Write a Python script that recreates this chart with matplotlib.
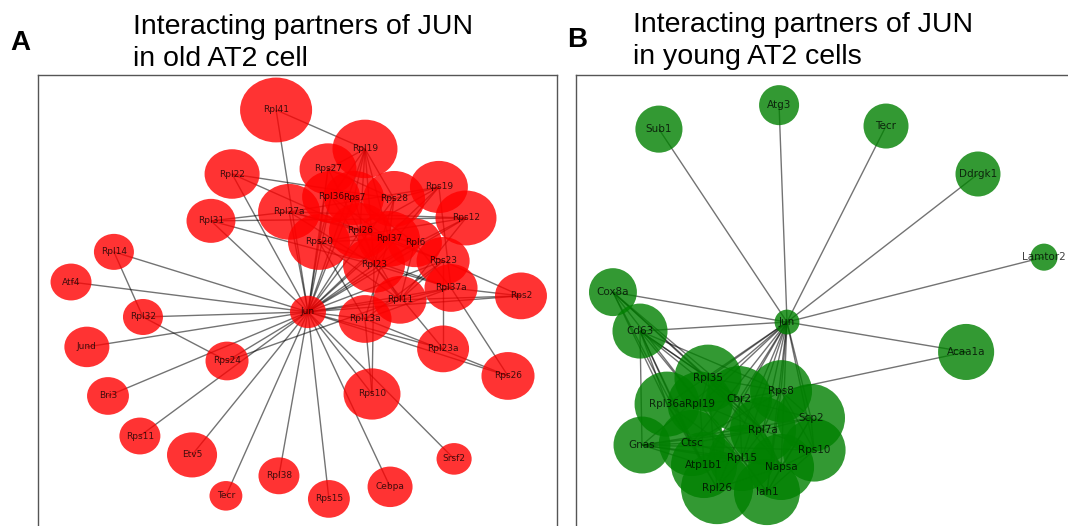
import matplotlib.pyplot as plt
from matplotlib.collections import LineCollection
from matplotlib.path import Path
from matplotlib.transforms import Affine2D

# --- old AT2 cell network (layout coordinates, Jun at the origin) ---
old_nodes = ["Jun", "Rpl41", "Rpl19", "Rps27", "Rpl22", "Rpl36", "Rps7", "Rps28",
             "Rps19", "Rps12", "Rpl27a", "Rpl31", "Rpl26", "Rps20", "Rpl37", "Rpl6",
             "Rpl23", "Rps23", "Rpl37a", "Rpl11", "Rpl13a", "Rps2", "Rpl23a", "Rps26",
             "Rps10", "Srsf2", "Cebpa", "Rps15", "Rpl38", "Tecr", "Etv5", "Rps11",
             "Bri3", "Jund", "Rps24", "Rpl32", "Atf4", "Rpl14"]
old_x = [0.0, -0.145, 0.259, 0.091, -0.345, 0.105, 0.209, 0.391,
         0.595, 0.718, -0.086, -0.441, 0.236, 0.050, 0.368, 0.486,
         0.300, 0.614, 0.650, 0.418, 0.259, 0.968, 0.614, 0.909,
         0.291, 0.664, 0.373, 0.095, -0.132, -0.373, -0.527, -0.764,
         -0.909, -1.005, -0.368, -0.750, -1.077, -0.882]
old_y = [0.0, 0.918, 0.741, 0.650, 0.627, 0.523, 0.518, 0.514,
         0.568, 0.427, 0.455, 0.414, 0.368, 0.318, 0.332, 0.314,
         0.214, 0.232, 0.109, 0.055, -0.032, 0.073, -0.168, -0.291,
         -0.373, -0.668, -0.795, -0.850, -0.745, -0.836, -0.650, -0.564,
         -0.382, -0.159, -0.223, -0.023, 0.136, 0.273]
old_size = [670, 2690, 2190, 1680, 1570, 1740, 1870, 1990,
            1740, 1930, 1990, 1240, 1990, 1990, 1990, 1510,
            1990, 1460, 1460, 1460, 1460, 1400, 1400, 1460,
            1680, 640, 1050, 910, 870, 560, 1300, 870,
            910, 1050, 960, 830, 870, 830]
old_links = {
    "Jun": "Rpl41 Rpl22 Rpl31 Rpl14 Atf4 Rpl32 Jund Rps24 Bri3 Rps11 Etv5 Tecr "
           "Rpl38 Rps15 Cebpa Srsf2 Rps10 Rpl23a Rps26 Rps2 Rpl13a Rpl11 Rpl37a "
           "Rpl23 Rps20 Rpl27a Rpl26 Rpl37 Rpl6 Rps23 Rps28 Rps7 Rpl36 Rps27 "
           "Rpl19 Rps19 Rps12",
    "Rpl14": "Rpl32",
    "Rpl32": "Rps24",
    "Rps24": "Rpl11",
    "Rpl41": "Rpl19",
    "Rpl22": "Rps28 Rpl26",
    "Rpl31": "Rpl27a Rpl23 Rps12",
    "Rps2": "Rpl37a Rps23 Rpl11",
    "Rps26": "Rpl37a Rpl13a",
    "Rpl23a": "Rpl23 Rps23",
    "Rps10": "Rpl23 Rpl13a",
    "Rpl19": "Rps27 Rpl36 Rps7 Rpl26 Rpl37 Rps28 Rpl23",
    "Rps27": "Rps20 Rpl26 Rps28",
    "Rpl36": "Rpl37 Rps20 Rpl23",
    "Rps7": "Rpl6 Rpl23",
    "Rps28": "Rpl23 Rpl37 Rps19",
    "Rps19": "Rpl26 Rpl27a Rpl37a Rpl23",
    "Rps12": "Rpl27a Rpl23 Rpl11 Rps20",
    "Rpl27a": "Rpl37 Rpl6 Rpl23",
    "Rpl26": "Rpl11 Rps23",
    "Rps20": "Rpl37 Rpl11 Rpl37a Rpl13a",
    "Rpl37": "Rpl13a Rps23",
    "Rpl6": "Rpl11 Rpl37a",
    "Rpl23": "Rpl37a Rpl11",
    "Rps23": "Rpl11",
    "Rpl37a": "Rpl11",
    "Rpl13a": "Rpl37a Rps23",
}

# --- young AT2 cell network ---
young_nodes = ["Jun", "Sub1", "Atg3", "Tecr", "Ddrgk1", "Lamtor2", "Cox8a", "Cd63",
               "Acaa1a", "Rpl35", "Rps8", "Rpl36a", "Rpl19", "Cbr2", "Scp2", "Rpl7a",
               "Gnas", "Ctsc", "Rps10", "Rpl15", "Atp1b1", "Napsa", "Rpl26", "Iah1"]
young_x = [0.0, -0.582, -0.036, 0.450, 0.868, 1.168, -0.791, -0.668,
           0.814, -0.359, -0.027, -0.545, -0.395, -0.218, 0.109, -0.109,
           -0.659, -0.432, 0.123, -0.205, -0.377, -0.027, -0.318, -0.091]
young_y = [0.0, 0.877, 0.986, 0.891, 0.673, 0.295, 0.136, -0.041,
           -0.136, -0.255, -0.314, -0.373, -0.373, -0.350, -0.436, -0.491,
           -0.559, -0.550, -0.582, -0.618, -0.650, -0.659, -0.755, -0.773]
young_size = [320, 1150, 830, 1050, 1050, 380, 1190, 1570,
              1630, 2330, 1990, 2190, 2190, 2260, 2400, 2260,
              1680, 2260, 2060, 2260, 2260, 2260, 2690, 2260]
young_links = {
    "Jun": "Sub1 Atg3 Tecr Ddrgk1 Lamtor2 Cox8a Cd63 Acaa1a Rpl35 Rps8 Rpl36a "
           "Rpl19 Cbr2 Scp2 Rpl7a Gnas Ctsc Rps10 Rpl15 Atp1b1 Napsa Rpl26 Iah1",
    "Acaa1a": "Rps8",
    "Cox8a": "Rpl35 Rpl36a Rpl19 Cbr2 Ctsc Rpl7a",
    "Cd63": "Rpl35 Rpl36a Rpl19 Cbr2 Rps8 Ctsc Gnas Atp1b1 Rpl7a",
    "Gnas": "Ctsc Rpl7a Rpl15 Scp2 Rps10 Napsa Atp1b1",
    "Rpl35": "Rps8 Cbr2 Rpl19 Rpl7a Napsa Rpl26",
    "Rps8": "Cbr2 Scp2 Rpl7a Rps10 Iah1 Ctsc",
    "Rpl36a": "Rpl19 Ctsc Rpl15 Rpl26",
    "Rpl19": "Cbr2 Rpl7a Atp1b1 Iah1",
    "Cbr2": "Rpl7a Scp2 Rpl15 Napsa",
    "Scp2": "Rpl7a Rps10 Napsa Iah1",
    "Rpl7a": "Ctsc Rpl15 Napsa Rps10",
    "Ctsc": "Atp1b1 Rpl15 Rpl26",
    "Rps10": "Napsa Iah1",
    "Rpl15": "Atp1b1 Napsa Rpl26 Iah1",
    "Napsa": "Iah1 Rpl26",
}


def draw_network(ax, nodes, xs, ys, sizes, links, color, marker, fontsize):
    pos = {n: (x, y) for n, x, y in zip(nodes, xs, ys)}
    segs = [(pos[a], pos[b]) for a, nb in links.items() for b in nb.split()]
    ax.add_collection(LineCollection(segs, colors="k", alpha=0.55,
                                     linewidths=1.0, zorder=1))
    ax.scatter(xs, ys, s=sizes, c=color, alpha=0.8, marker=marker,
               linewidths=0, zorder=2)
    for n, x, y in zip(nodes, xs, ys):
        ax.text(x, y, n, ha="center", va="center", fontsize=fontsize,
                color="k", alpha=0.75, zorder=3)
    ax.set_xticks([])
    ax.set_yticks([])
    for sp in ax.spines.values():
        sp.set_color("#555555")
        sp.set_linewidth(1.0)


fig = plt.figure(figsize=(10.68, 5.26), dpi=100)

# slightly flattened node shape for the left network
oval = Path.unit_circle().transformed(Affine2D().scale(1.0, 0.9))

ax1 = fig.add_axes([0.0356, -0.0171, 0.4860, 0.8745])
draw_network(ax1, old_nodes, old_x, old_y, old_size, old_links,
             "red", oval, 6.5)
ax1.set_xlim(-1.227, 1.132)
ax1.set_ylim(-1.014, 1.077)

ax2 = fig.add_axes([0.5393, -0.0171, 0.4813, 0.8745])
draw_network(ax2, young_nodes, young_x, young_y, young_size, young_links,
             "green", "o", 7.5)
ax2.set_xlim(-0.959, 1.377)
ax2.set_ylim(-0.968, 1.123)

title_font = ["Liberation Sans", "DejaVu Sans"]
fig.text(0.0094, 0.905, "A", fontsize=20, fontweight="bold",
         family=title_font, va="baseline")
fig.text(0.531, 0.911, "B", fontsize=20, fontweight="bold",
         family=title_font, va="baseline")
fig.text(0.1245, 0.974, "Interacting partners of JUN\nin old AT2 cell",
         fontsize=20.5, family=title_font, va="top", ha="left",
         linespacing=1.33)
fig.text(0.5927, 0.978, "Interacting partners of JUN\nin young AT2 cells",
         fontsize=20.5, family=title_font, va="top", ha="left",
         linespacing=1.33)

fig.savefig("out.png", dpi=100)
